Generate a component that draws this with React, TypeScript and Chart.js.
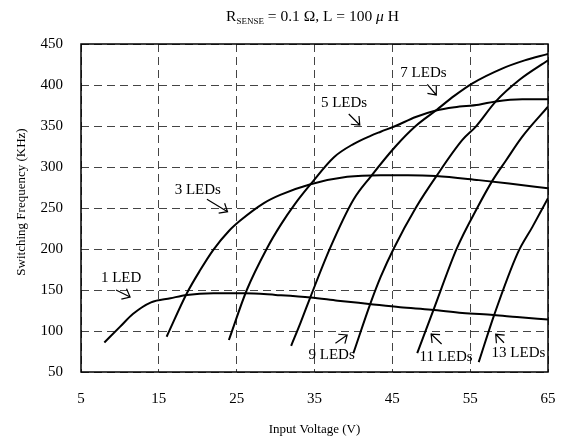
import { useEffect, useRef } from "react";
import { Chart, registerables } from "chart.js";

Chart.register(...registerables);

// ---- axis ticks ----
const xTickValues = [5, 15, 25, 35, 45, 55, 65];
const yTickValues = [50, 100, 150, 200, 250, 300, 350, 400, 450];

// ---- series (Input Voltage V -> Switching Frequency KHz) ----
const led1V = [8, 10, 11.7, 14, 16.5, 18.6, 22, 26, 30, 34.5, 38, 42, 46, 50, 54, 58, 61, 65];
const led1F = [86, 105, 121, 135, 140, 144, 146, 146, 144, 141, 137, 133, 129, 126, 122, 119.5, 117, 114];

const led3V = [16, 18.6, 20.3, 22, 24, 25.5, 28.5, 30.6, 34.5, 39.2, 43.5, 47, 50.6, 56.1, 60, 65];
const led3F = [93, 146, 174, 199, 222, 235, 256, 266, 279, 288, 290, 290, 289, 284, 280, 274];

const led5V = [24, 26.3, 28.9, 30.7, 32.5, 34.5, 37.5, 40, 42.2, 43.5, 45.4, 48, 50.6, 53, 56.1, 58.3, 61.7, 65];
const led5F = [89, 150, 201, 230, 255, 279, 312, 328, 338, 343, 350, 361, 369, 373, 376, 380, 382.5, 382.5];

const led7V = [32, 33.2, 34.5, 37, 40, 42.2, 45.4, 48, 50.6, 53, 55.3, 59.1, 62, 65];
const led7F = [82, 110, 142, 201, 260, 288, 325, 350, 369, 387, 402, 420, 430, 438];

const led9V = [40, 42.2, 43.5, 45.2, 48, 50.6, 54, 55.7, 58.3, 61.3, 65];
const led9F = [73, 134, 166, 201, 250, 288, 333, 349, 380, 406, 430];

const led11V = [48.2, 50.3, 53.3, 55.9, 57.9, 59.6, 61.7, 65];
const led11F = [73, 126, 201, 250, 284, 308, 337, 373.5];

const led13V = [56.1, 58.1, 61.1, 63, 65];
const led13F = [62, 120, 195, 227, 262];

const seriesV = [led1V, led3V, led5V, led7V, led9V, led11V, led13V];
const seriesF = [led1F, led3F, led5F, led7F, led9F, led11F, led13F];
const seriesNames = ["1 LED", "3 LEDs", "5 LEDs", "7 LEDs", "9 LEDs", "11 LEDs", "13 LEDs"];

// ---- annotation labels (data coordinates) ----
const labelText = ["1 LED", "3 LEDs", "5 LEDs", "7 LEDs", "9 LEDs", "11 LEDs", "13 LEDs"];
const labelV = [10.15, 20.0, 38.8, 49.0, 37.2, 51.9, 61.2];
const labelF = [164.6, 272, 378.4, 415, 70.7, 68.7, 73.5];

// arrows (tail -> tip), data coordinates
const arrowFromV = [9.5, 21.18, 39.4, 49.49, 37.69, 51.33, 59.35];
const arrowFromF = [150.0, 260.6, 364.6, 400.9, 85.0, 84.1, 85.7];
const arrowToV = [11.31, 23.83, 40.82, 50.65, 39.2, 49.98, 58.28];
const arrowToF = [141.5, 245.5, 351.2, 387.8, 95.1, 96.3, 96.0];

const axisTitleX = "Input Voltage (V)";
const axisTitleY = "Switching Frequency (KHz)";

const SERIF = '"Liberation Serif", "Times New Roman", serif';

const overlayPlugin = {
  id: "overlay",
  afterDraw(chart: any) {
    const { ctx, chartArea: a, scales } = chart;
    const x = scales.x;
    const y = scales.y;
    ctx.save();

    // frame
    ctx.setLineDash([]);
    ctx.strokeStyle = "#000";
    ctx.lineWidth = 1.5;
    ctx.strokeRect(a.left, a.top, a.right - a.left, a.bottom - a.top);

    // x tick labels
    ctx.fillStyle = "#000";
    ctx.font = `15px ${SERIF}`;
    ctx.textAlign = "center";
    ctx.textBaseline = "middle";
    xTickValues.forEach((v) => {
      ctx.fillText(String(v), x.getPixelForValue(v), 399);
    });

    // labels
    labelText.forEach((t, i) => {
      ctx.fillText(t, x.getPixelForValue(labelV[i]), y.getPixelForValue(labelF[i]));
    });

    // arrows
    ctx.lineWidth = 1.2;
    for (let i = 0; i < arrowFromV.length; i++) {
      const x0 = x.getPixelForValue(arrowFromV[i]);
      const y0 = y.getPixelForValue(arrowFromF[i]);
      const x1 = x.getPixelForValue(arrowToV[i]);
      const y1 = y.getPixelForValue(arrowToF[i]);
      const ang = Math.atan2(y1 - y0, x1 - x0);
      const L = 9;
      const h = (40 * Math.PI) / 180;
      ctx.beginPath();
      ctx.moveTo(x0, y0);
      ctx.lineTo(x1, y1);
      ctx.moveTo(x1 - L * Math.cos(ang - h), y1 - L * Math.sin(ang - h));
      ctx.lineTo(x1, y1);
      ctx.lineTo(x1 - L * Math.cos(ang + h), y1 - L * Math.sin(ang + h));
      ctx.stroke();
    }

    // axis titles
    ctx.font = `13px ${SERIF}`;
    ctx.textAlign = "center";
    ctx.textBaseline = "middle";
    ctx.fillText(axisTitleX, (a.left + a.right) / 2, 430);
    ctx.save();
    ctx.translate(22, (a.top + a.bottom) / 2 - 6);
    ctx.rotate(-Math.PI / 2);
    ctx.fillText(axisTitleY, 0, 0);
    ctx.restore();

    // title with subscript
    const mainFont = `15.5px ${SERIF}`;
    const subFont = `9px ${SERIF}`;
    const italFont = `italic 15.5px ${SERIF}`;
    const parts = [
      { t: "R", f: mainFont, dy: 0 },
      { t: "SENSE", f: subFont, dy: 3 },
      { t: " = 0.1 Ω, L = 100 ", f: mainFont, dy: 0 },
      { t: "μ", f: italFont, dy: 0 },
      { t: " H", f: mainFont, dy: 0 },
    ];
    let total = 0;
    parts.forEach((p) => {
      ctx.font = p.f;
      total += ctx.measureText(p.t).width;
    });
    let cx = (a.left + a.right) / 2 - 2 - total / 2;
    ctx.textAlign = "left";
    ctx.textBaseline = "alphabetic";
    parts.forEach((p) => {
      ctx.font = p.f;
      ctx.fillText(p.t, cx, 20.5 + p.dy);
      cx += ctx.measureText(p.t).width;
    });

    ctx.restore();
  },
};

export default function App() {
  const ref = useRef<HTMLCanvasElement | null>(null);

  useEffect(() => {
    if (!ref.current) return;
    const datasets = seriesV.map((vs, i) => ({
      label: seriesNames[i],
      data: vs.map((v, j) => ({ x: v, y: seriesF[i][j] })),
      borderColor: "#000",
      backgroundColor: "#000",
      borderWidth: 2,
      pointRadius: 0,
      fill: false,
      cubicInterpolationMode: "monotone" as const,
    }));

    const chart = new Chart(ref.current, {
      type: "line",
      data: { datasets },
      options: {
        responsive: false,
        animation: false,
        layout: { padding: { top: 44, right: 16, left: 0, bottom: 0 } },
        plugins: {
          legend: { display: false },
          tooltip: { enabled: false },
          title: { display: false },
        },
        scales: {
          x: {
            type: "linear",
            min: 5,
            max: 65,
            afterBuildTicks: (s: any) => {
              s.ticks = xTickValues.map((v) => ({ value: v }));
            },
            afterFit: (s: any) => {
              s.height = 69;
            },
            grid: { color: "#444", lineWidth: 1, drawTicks: false },
            border: { display: false, dash: [8, 5] },
            ticks: { display: false },
          },
          y: {
            type: "linear",
            min: 50,
            max: 450,
            afterBuildTicks: (s: any) => {
              s.ticks = yTickValues.map((v) => ({ value: v }));
            },
            afterFit: (s: any) => {
              s.width = 81;
            },
            grid: { color: "#444", lineWidth: 1, drawTicks: false },
            border: { display: false, dash: [8, 5] },
            ticks: {
              color: "#000",
              padding: 18,
              font: { family: SERIF, size: 15 },
              autoSkip: false,
            },
          },
        },
      },
      plugins: [overlayPlugin],
    });
    return () => chart.destroy();
  }, []);

  return (
    <div style={{ position: "fixed", left: 0, top: 0, width: 564, height: 441, background: "#fff" }}>
      <canvas ref={ref} width={564} height={441} style={{ display: "block" }} />
    </div>
  );
}
